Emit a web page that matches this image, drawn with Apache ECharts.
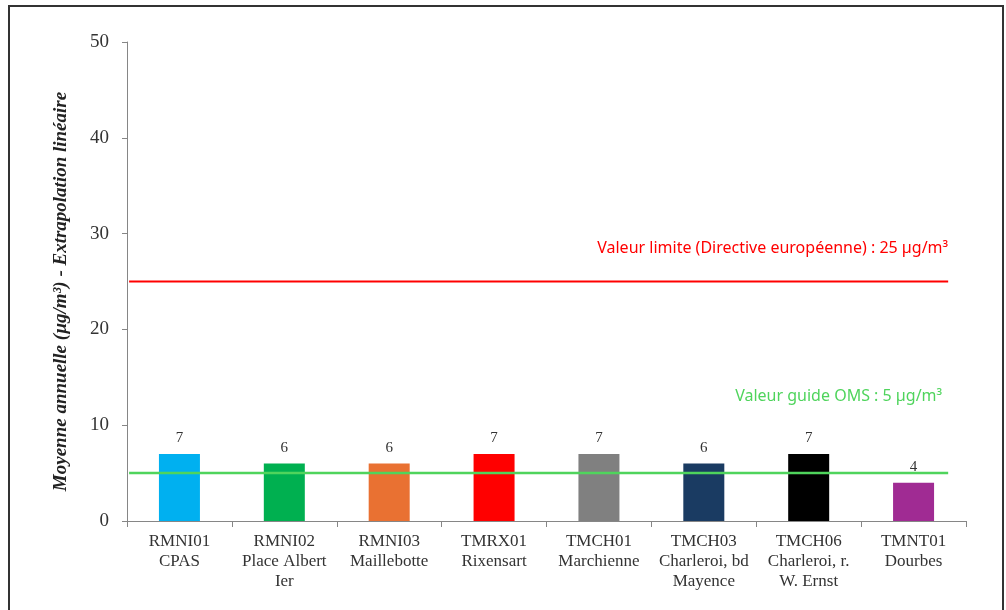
<!DOCTYPE html>
<html>
<head>
<meta charset="utf-8">
<script src="https://cdn.jsdelivr.net/npm/echarts@6/dist/echarts.min.js"></script>
<style>
html, body { margin: 0; padding: 0; background: #fff; }
#main { width: 1006px; height: 610px; }
#frame { position: absolute; left: 8px; top: 5px; width: 992px; height: 620px; border: 2px solid #333; pointer-events: none; }
</style>
</head>
<body>
<div id="main"></div>
<div id="frame"></div>
<script>
var stations = ['RMNI01\nCPAS', 'RMNI02\nPlace Albert\nIer', 'RMNI03\nMaillebotte', 'TMRX01\nRixensart',
    'TMCH01\nMarchienne', 'TMCH03\nCharleroi, bd\nMayence', 'TMCH06\nCharleroi, r.\nW. Ernst', 'TMNT01\nDourbes']
var moyennes = [7, 6, 6, 7, 7, 6, 7, 4]
var couleurs = ['#00b0f0', '#00b050', '#e97132', '#ff0000', '#808080', '#1a3b62', '#000000', '#a02b93']
var yTicks = [0, 10, 20, 30, 40, 50]

var limiteUE = 25
var guideOMS = 5
var ligneDebut = 0.02
var ligneFin = 7.83

var myChart = echarts.init(document.getElementById('main'))

var barData = []
for (i = 0; i < moyennes.length; i++) {
    barData.push({ value: moyennes[i], itemStyle: { color: couleurs[i] } })
}

function refLine(val, color, width, text, dist, dx) {
    return {
        type: 'line',
        xAxisIndex: 1,
        yAxisIndex: 0,
        symbol: 'circle',
        symbolSize: 0,
        lineStyle: { color: color, width: width },
        itemStyle: { color: color },
        silent: true,
        z: 5,
        data: [
            [ligneDebut, val],
            {
                value: [ligneFin, val],
                label: {
                    show: true,
                    position: 'top',
                    align: 'right',
                    distance: dist,
                    offset: [dx, 0],
                    formatter: text,
                    color: color,
                    fontFamily: 'Noto Sans',
                    fontSize: 16
                }
            }
        ]
    }
}

var serif = 'Liberation Serif'

option = {
    animation: false,
    grid: { left: 127, right: 40, top: 42, bottom: 89 },
    xAxis: [
        {
            type: 'category',
            data: stations,
            axisLine: { lineStyle: { color: '#868686', width: 1 } },
            axisTick: { show: true, length: 6, interval: 0, lineStyle: { color: '#868686' } },
            axisLabel: { interval: 0, margin: 11, color: '#333', fontFamily: serif, fontSize: 17, lineHeight: 20 }
        },
        { type: 'value', min: 0, max: 8, show: false }
    ],
    yAxis: {
        type: 'value',
        min: yTicks[0],
        max: yTicks[yTicks.length - 1],
        interval: 10,
        splitLine: { show: false },
        axisLine: { show: true, lineStyle: { color: '#868686' } },
        axisTick: { show: true, length: 5, lineStyle: { color: '#868686' } },
        axisLabel: { margin: 18, color: '#333', fontFamily: serif, fontSize: 19 },
        name: 'Moyenne annuelle (µg/m³) - Extrapolation linéaire',
        nameLocation: 'middle',
        nameGap: 56,
        nameTextStyle: { fontFamily: serif, fontStyle: 'italic', fontWeight: 'bold', fontSize: 19, color: '#222', padding: [0, 20, 0, 0] }
    },
    series: [
        {
            type: 'bar',
            barWidth: 41,
            data: barData,
            label: { show: true, position: 'top', distance: 8, color: '#333', fontFamily: serif, fontSize: 15 }
        },
        refLine(limiteUE, '#ff0000', 2, 'Valeur limite (Directive européenne) : 25 µg/m³', 25, 0),
        refLine(guideOMS, '#4fd45c', 2.5, 'Valeur guide OMS : 5 µg/m³', 69, -6)
    ]
}
myChart.setOption(option)
</script>
</body>
</html>
